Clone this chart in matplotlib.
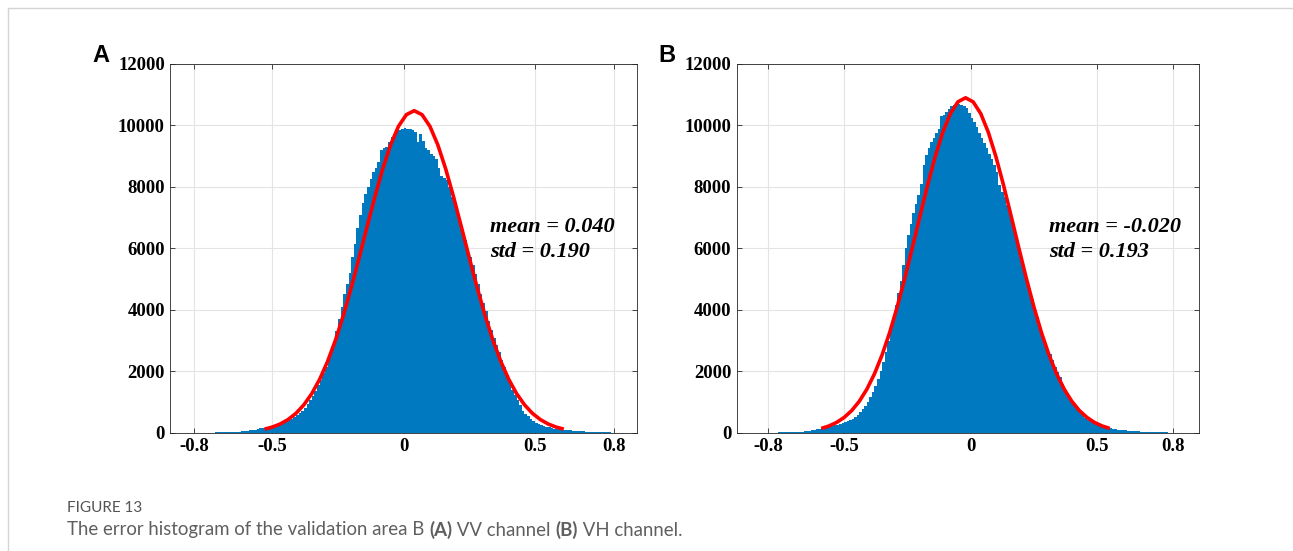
import numpy as np
import matplotlib
matplotlib.use("Agg")
import matplotlib.pyplot as plt
from matplotlib.lines import Line2D

# histogram bin heights, 0.01 wide bins
bin_width = 0.01
a_start = -0.75
a_counts = [4, 5, 6, 8, 9, 11, 14, 16, 19, 23,
            27, 32, 37, 44, 52, 61, 72, 86, 102, 120,
            138, 158, 178, 196, 215, 238, 262, 290, 318, 348,
            378, 410, 450, 500, 565, 630, 710, 800, 920, 1060,
            1210, 1370, 1540, 1720, 1930, 2130, 2350, 2620, 2950, 3320,
            3700, 4080, 4500, 4850, 5200, 5720, 6150, 6650, 7080, 7480,
            7780, 8000, 8250, 8500, 8620, 8800, 9200, 9270, 9300, 9450,
            9620, 9700, 9800, 9860, 9900, 9930, 9900, 9870, 9840, 9800,
            9450, 9720, 9500, 9280, 9200, 9080, 9000, 8920, 8600, 8350,
            8300, 8230, 8000, 7680, 7400, 7180, 6900, 6600, 6280, 5980,
            5730, 5450, 5150, 4850, 4520, 4230, 3950, 3650, 3350, 3070,
            2850, 2640, 2380, 2130, 1880, 1640, 1400, 1220, 1050, 900,
            720, 620, 530, 450, 380, 320, 280, 245, 215, 190,
            170, 150, 132, 118, 106, 96, 88, 80, 72, 66,
            60, 55, 50, 44, 39, 34, 29, 25, 21, 18,
            15, 12, 10, 8, 6]

b_start = -0.80
b_counts = [2, 3, 4, 6, 7, 9, 11, 13, 16, 19,
            23, 27, 32, 38, 45, 53, 62, 74, 88, 105,
            122, 140, 160, 180, 200, 220, 240, 260, 285, 310,
            340, 372, 410, 450, 500, 570, 660, 760, 880, 1010,
            1160, 1330, 1530, 1760, 2020, 2300, 2620, 2980, 3330, 3700,
            4150, 4550, 4950, 5450, 6000, 6450, 6800, 7150, 7450, 7750,
            8100, 8700, 9050, 9280, 9450, 9600, 9750, 9900, 10300, 10350,
            10450, 10550, 10620, 10680, 10720, 10700, 10660, 10620, 10580, 10400,
            10250, 10100, 9950, 9750, 9600, 9420, 9280, 9080, 8900, 8700,
            8500, 8050, 7850, 7680, 7400, 7140, 6850, 6580, 6250, 5940,
            5600, 5280, 4950, 4620, 4350, 4070, 3750, 3430, 3150, 2930,
            2720, 2550, 2350, 2150, 1980, 1800, 1600, 1400, 1230, 1090,
            960, 850, 750, 650, 560, 480, 420, 370, 330, 295,
            262, 232, 205, 180, 160, 142, 126, 112, 100, 90,
            80, 72, 64, 57, 51, 46, 41, 37, 33, 30,
            27, 24, 21, 18, 15, 12, 10, 8, 6, 4]

# red fitted curves
a_curve_x = [-0.53, -0.50, -0.47, -0.44, -0.41, -0.38, -0.35, -0.32, -0.29, -0.26,
             -0.23, -0.20, -0.17, -0.14, -0.11, -0.08, -0.05, -0.02, 0.01, 0.04,
             0.07, 0.10, 0.13, 0.16, 0.19, 0.22, 0.25, 0.28, 0.31, 0.34,
             0.37, 0.40, 0.43, 0.46, 0.49, 0.52, 0.55, 0.58, 0.61]
a_curve_y = [116, 185, 286, 431, 634, 911, 1275, 1741, 2319, 3013,
             3818, 4720, 5690, 6691, 7674, 8585, 9368, 9970, 10350, 10480,
             10350, 9970, 9368, 8585, 7674, 6691, 5690, 4720, 3818, 3013,
             2319, 1741, 1275, 911, 634, 431, 286, 185, 116]

b_curve_x = [-0.59, -0.56, -0.53, -0.50, -0.47, -0.44, -0.41, -0.38, -0.35, -0.32,
             -0.29, -0.26, -0.23, -0.20, -0.17, -0.14, -0.11, -0.08, -0.05, -0.02,
             0.01, 0.04, 0.07, 0.10, 0.13, 0.16, 0.19, 0.22, 0.25, 0.28,
             0.31, 0.34, 0.37, 0.40, 0.43, 0.46, 0.49, 0.52, 0.55]
b_curve_y = [139, 218, 332, 495, 719, 1021, 1415, 1914, 2527, 3257,
             4097, 5031, 6030, 7056, 8059, 8984, 9777, 10386, 10769, 10900,
             10769, 10386, 9777, 8984, 8059, 7056, 6030, 5031, 4097, 3257,
             2527, 1914, 1415, 1021, 719, 495, 332, 218, 139]

x_ticks = [-0.8, -0.5, 0, 0.5, 0.8]
x_tick_labels = ["-0.8", "-0.5", "0", "0.5", "0.8"]
y_ticks = [0, 2000, 4000, 6000, 8000, 10000, 12000]

stats_a = ["mean = 0.040", "std = 0.190"]
stats_b = ["mean = -0.020", "std = 0.193"]

BLUE = "#0079C1"
SERIF = "Liberation Serif"

fig = plt.figure(figsize=(12.93, 5.51), dpi=100)

# frame of the figure page
fig.add_artist(Line2D([8 / 1293, 8 / 1293], [0, 1 - 8 / 551], color="#d4d4d4", lw=1))
fig.add_artist(Line2D([8 / 1293, 1], [1 - 8 / 551, 1 - 8 / 551], color="#d4d4d4", lw=1))


def draw_panel(rect, start, counts, cx, cy, stats, xlim, label, label_x, text_x):
    ax = fig.add_axes(rect)
    edges = start + bin_width * np.arange(len(counts) + 1)
    ax.stairs(counts, edges, fill=True, color=BLUE, lw=0)
    ax.plot(cx, cy, color="#ff0000", lw=2.6, solid_capstyle="butt")
    ax.set_xlim(*xlim)
    ax.set_ylim(0, 12000)
    ax.set_xticks(x_ticks)
    ax.set_xticklabels(x_tick_labels)
    ax.set_yticks(y_ticks)
    ax.grid(True, color="#e4e4e4", lw=0.8)
    ax.set_axisbelow(True)
    ax.tick_params(direction="in", length=3.5, width=0.6, top=True, right=True,
                   colors="#262626", labelcolor="black", pad=4)
    for lab in ax.get_xticklabels() + ax.get_yticklabels():
        lab.set_fontfamily(SERIF)
        lab.set_fontweight("bold")
        lab.set_fontsize(13.5)
    for sp in ax.spines.values():
        sp.set_color("#262626")
        sp.set_linewidth(0.6)
    ax.text(text_x, 6700, stats[0], fontfamily=SERIF, fontweight="bold", fontstyle="italic",
            fontsize=16, va="center", ha="left")
    ax.text(text_x, 5880, stats[1], fontfamily=SERIF, fontweight="bold", fontstyle="italic",
            fontsize=16, va="center", ha="left")
    fig.text(label_x, 1 - 55 / 551, label, fontfamily="Liberation Sans", fontweight="bold",
             fontsize=17, va="center", ha="left")
    return ax


draw_panel([170.4 / 1293, 1 - 432.7 / 551, (637 - 170.4) / 1293, (432.7 - 64) / 551],
           a_start, a_counts, a_curve_x, a_curve_y, stats_a, (-0.889, 0.889), "A", 92 / 1293, 0.329)
draw_panel([736.8 / 1293, 1 - 432.7 / 551, (1198.6 - 736.8) / 1293, (432.7 - 64) / 551],
           b_start, b_counts, b_curve_x, b_curve_y, stats_b, (-0.924, 0.901), "B", 658 / 1293, 0.311)

# caption
fig.text(67 / 1293, 1 - 508 / 551, "FIGURE 13", fontfamily="Lato", fontsize=11,
         color="#555555", va="center", ha="left")

pieces = [("The error histogram of the validation area B ", "normal"), ("(A)", "bold"),
          (" VV channel ", "normal"), ("(B)", "bold"), (" VH channel.", "normal")]
fig.canvas.draw()
renderer = fig.canvas.get_renderer()
x_pos = 67 / 1293
for txt, weight in pieces:
    t = fig.text(x_pos, 1 - 530 / 551, txt, fontfamily="Lato", fontsize=13.4,
                 fontweight=weight, color="#5f5f5f", va="center", ha="left")
    bb = t.get_window_extent(renderer=renderer)
    x_pos += bb.width / fig.bbox.width

fig.savefig("out.png", dpi=100)
